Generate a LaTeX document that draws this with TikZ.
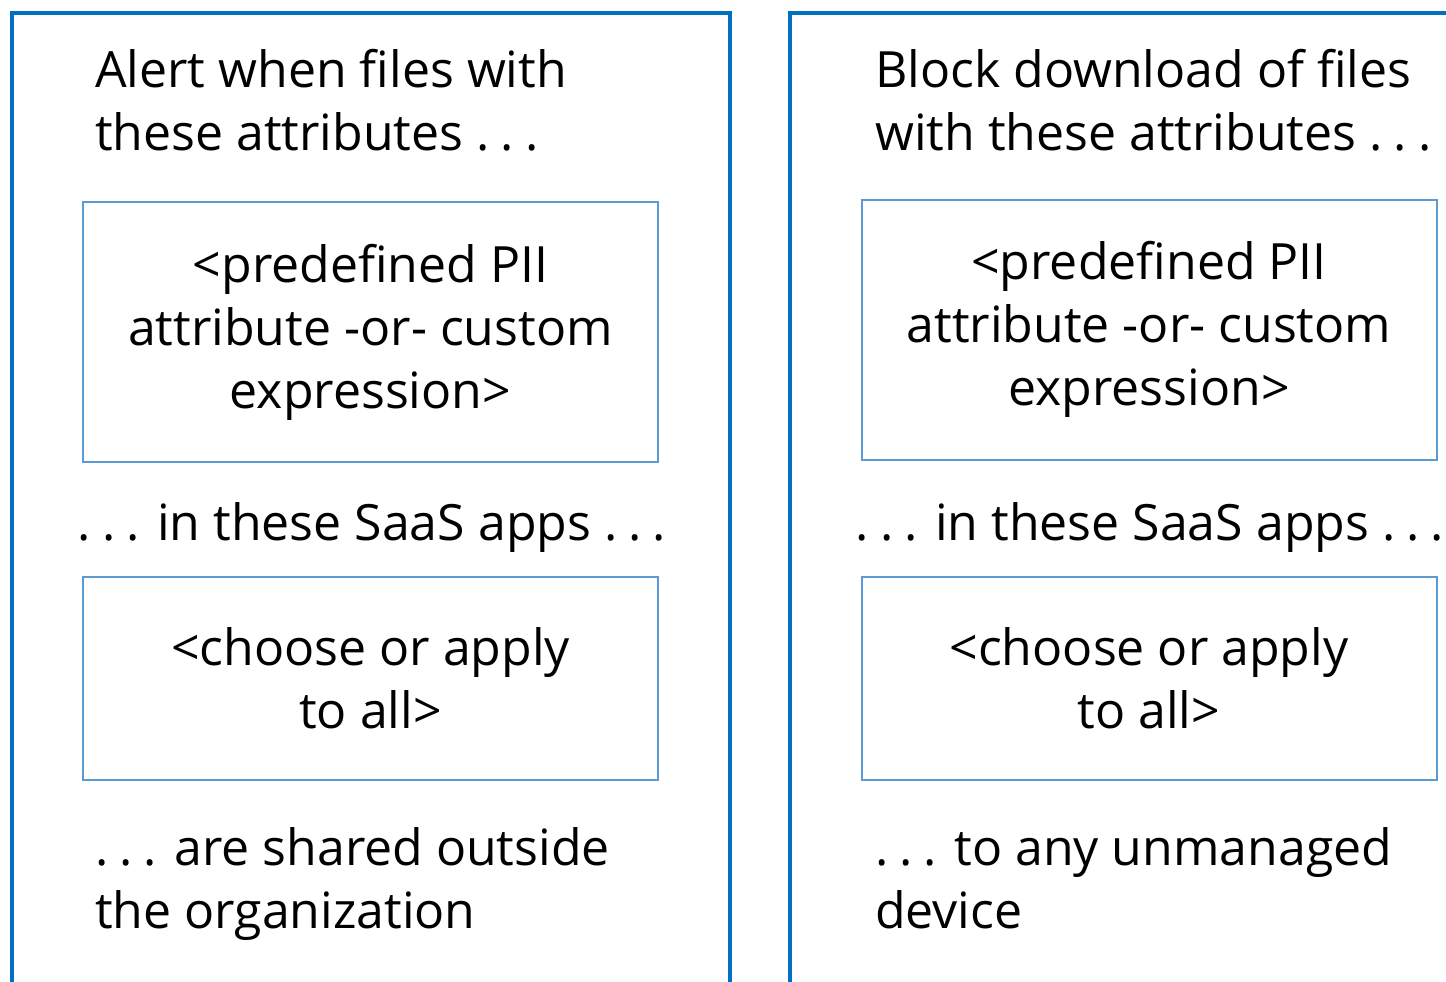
\documentclass[tikz,border=0pt]{standalone}
\usepackage{fontspec}
\setmainfont{Open Sans}
\usetikzlibrary{positioning}
\definecolor{frameblue}{HTML}{0070C0}
\definecolor{boxblue}{HTML}{5B9BD5}
\newcommand{\tridots}{.\hspace{.22em}.\hspace{.22em}.}
\tikzset{
	outer/.style={draw=frameblue,line width=4pt},
	inbox/.style={draw=boxblue,line width=2pt,minimum width=575pt,minimum height=260pt,align=center,inner sep=0pt,font=\fontsize{50}{63}\selectfont},
	caption/.style={anchor=base west,align=left,inner sep=0pt,font=\fontsize{50}{63}\selectfont},
	midtext/.style={anchor=base,inner sep=0pt,font=\fontsize{50}{63}\selectfont}
}
\begin{document}
\begin{tikzpicture}[x=1pt,y=-1pt]
	\useasboundingbox (0,0) rectangle (1446,982);
	%%%% frames
	\draw[outer] (11.5,13.5) rectangle (729.5,1010);
	\draw[outer] (789.5,13.5) rectangle (1480,1010);
	
	%%%% alert policy
	\node[caption] (alerthead) at (95,150) {Alert when files with\\these attributes \tridots};
	\node[inbox] (alertpii) at (370.5,332) {<predefined PII\\attribute -or- custom\\expression>};
	\node[midtext] (alertapps) at (372,540) {\tridots{} in these SaaS apps \tridots};
	\node[inbox,minimum height=203pt] (alertchoose) at (370.5,678.5) {<choose or apply\\to all>};
	\node[caption] (alertfoot) at (95,928) {\tridots{} are shared outside\\the organization};
	
	%%%% block policy
	\node[caption] (blockhead) at (875,150) {Block download of files\\with these attributes \tridots};
	\node[inbox] (blockpii) at (1149,329.5) {<predefined PII\\attribute -or- custom\\expression>};
	\node[midtext] (blockapps) at (1150,540) {\tridots{} in these SaaS apps \tridots};
	\node[inbox,minimum height=203pt] (blockchoose) at (1149,678.5) {<choose or apply\\to all>};
	\node[caption] (blockfoot) at (875,928) {\tridots{} to any unmanaged\\device};
\end{tikzpicture}
\end{document}
